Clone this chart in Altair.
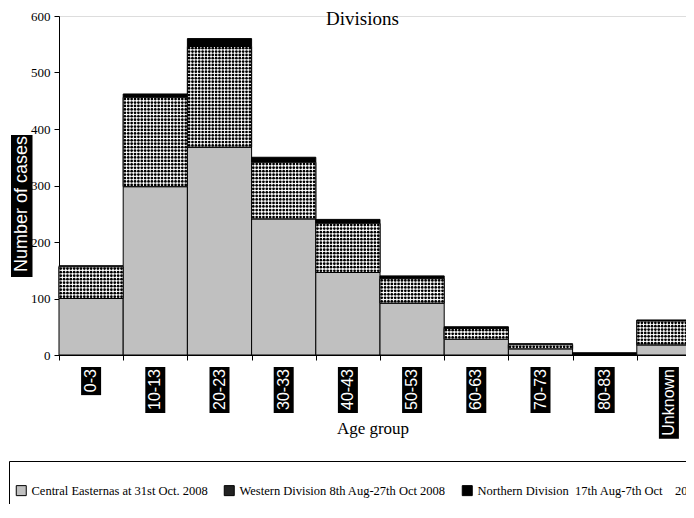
import altair as alt
import pandas as pd

# ---- data ----
cats = ["0-3", "10-13", "20-23", "30-33", "40-43", "50-53", "60-63", "70-73", "80-83", "Unknown"]
central = [100, 298, 368, 241, 146, 92, 28, 11, 1, 18]
western = [56, 158, 178, 100, 87, 43, 19, 7, 0, 42]
northern = [2, 6, 14, 9, 7, 5, 3, 2, 3, 2]
series = [
    "Central Easternas at 31st Oct. 2008",
    "Western Division 8th Aug-27th Oct 2008",
    "Northern Division\u00a0\u00a017th Aug-7th Oct" + "\u00a0" * 4 + "2008",
]
y_ticks = [0, 100, 200, 300, 400, 500, 600]

# ---- layout constants ----
W, H = 627, 339
BAND = 64.2
XMAX = W / BAND
PX = H / 600.0  # pixels per unit

# stacked segments
rows = []
for i, c in enumerate(cats):
    base = 0
    for name, vals in zip(series, [central, western, northern]):
        v = vals[i]
        if v > 0:
            rows.append({"cat": c, "x0": i, "x1": i + 1, "y0": base, "y1": base + v, "series": name})
        base += v
seg = pd.DataFrame(rows)
west = seg[seg["series"] == series[1]]

# dot texture inside the western segments
dots = []
for _, r in west.iterrows():
    h = (r["y1"] - r["y0"]) * PX
    nr = max(1, int(h // 3.35))
    for a in range(nr):
        yy = r["y0"] + (a + 0.5) * (r["y1"] - r["y0"]) / nr
        for k in range(19):
            dots.append({"x": r["x0"] + (k + 0.5) / 19, "y": yy})
dots = pd.DataFrame(dots)

# x tick labels (white on black boxes)
cw = {"-": 0.333, "U": 0.722, "n": 0.556, "k": 0.5, "o": 0.556, "w": 0.722}
lab = pd.DataFrame({"cat": cats})
lab["xc"] = [i + 0.5 for i in range(len(cats))]
lab["xl"] = lab["xc"] - 10 / BAND
lab["xr"] = lab["xc"] + 10 / BAND
lab["len"] = [16 * sum(cw.get(ch, 0.556) for ch in c) + 5 for c in cats]
lab["ytop"] = -12 / PX
lab["ybot"] = -(12 + lab["len"]) / PX
lab["ytxt"] = -14 / PX

SERIF = "Liberation Serif"
xsc = alt.Scale(domain=[0, XMAX], nice=False, zero=False)
ysc = alt.Scale(domain=[0, 600], nice=False)

fill_scale = alt.Scale(domain=series, range=["#c0c0c0", "#222222", "#000000"])

bars = alt.Chart(seg).mark_rect(stroke="black", strokeWidth=1).encode(
    x=alt.X("x0:Q", scale=xsc, axis=alt.Axis(
        values=list(range(10)), labels=False, grid=False, tickSize=5,
        tickColor="black", domainColor="black", title="Age group",
        titleFont=SERIF, titleFontSize=17, titleFontWeight="normal",
        titleColor="black", titlePadding=60)),
    x2="x1:Q",
    y=alt.Y("y0:Q", scale=ysc, axis=alt.Axis(
        values=y_ticks, grid=False, tickSize=5, tickColor="black",
        domainColor="black", labelFont=SERIF, labelFontSize=13,
        labelColor="black", labelPadding=4, title=None)),
    y2="y1:Q",
    fill=alt.Fill("series:N", scale=fill_scale, legend=alt.Legend(
        orient="none", legendX=-50, legendY=445, direction="horizontal",
        title=" ", titleFontSize=4, titlePadding=13, padding=6,
        strokeColor="black", fillColor="white",
        symbolType="square", symbolSize=100, symbolStrokeColor="black",
        symbolStrokeWidth=1, symbolOpacity=1,
        labelFont=SERIF, labelFontSize=12.5, labelColor="black",
        labelLimit=600, labelOffset=4, columnPadding=14)),
)

west_white = alt.Chart(west).mark_rect(fill="white", stroke="black", strokeWidth=1).encode(
    x=alt.X("x0:Q", scale=xsc), x2="x1:Q", y=alt.Y("y0:Q", scale=ysc), y2="y1:Q"
)

dot_layer = alt.Chart(dots).mark_circle(size=7.5, color="black", opacity=1).encode(
    x=alt.X("x:Q", scale=xsc), y=alt.Y("y:Q", scale=ysc)
)

lab_box = alt.Chart(lab).mark_rect(color="black").encode(
    x=alt.X("xl:Q", scale=xsc), x2="xr:Q", y=alt.Y("ytop:Q", scale=ysc), y2="ybot:Q"
)
lab_txt = alt.Chart(lab).mark_text(
    angle=270, align="right", baseline="middle", font="Liberation Sans",
    fontSize=16, color="white"
).encode(x=alt.X("xc:Q", scale=xsc), y=alt.Y("ytxt:Q", scale=ysc), text="cat:N")

ytitle = pd.DataFrame({"t": ["Number of cases"]})
yt_box = alt.Chart(ytitle).mark_rect(color="black").encode(
    x=alt.value(-48), x2=alt.value(-26.5), y=alt.value(119), y2=alt.value(261)
)
yt_txt = alt.Chart(ytitle).mark_text(
    angle=270, align="center", baseline="middle", font="Liberation Sans",
    fontSize=18, color="white"
).encode(x=alt.value(-37), y=alt.value(188), text="t:N")

chart = alt.layer(bars, west_white, dot_layer, lab_box, lab_txt, yt_box, yt_txt).properties(
    width=W, height=H,
    autosize=alt.AutoSizeParams(type="none"),
    padding={"left": 51, "top": 8, "right": 0, "bottom": 149},
    title=alt.TitleParams("Divisions", font=SERIF, fontSize=19,
                          fontWeight="normal", color="black", anchor="middle",
                          offset=-19, dx=-10),
).configure_view(stroke=None).configure(
    background="white"
).configure_legend(
    labelFont=SERIF, labelFontSize=12.5, labelColor="black"
).configure_axis(
    labelFont=SERIF, titleFont=SERIF
)

chart.save("out.html", embed_options={"renderer": "svg", "actions": False})
